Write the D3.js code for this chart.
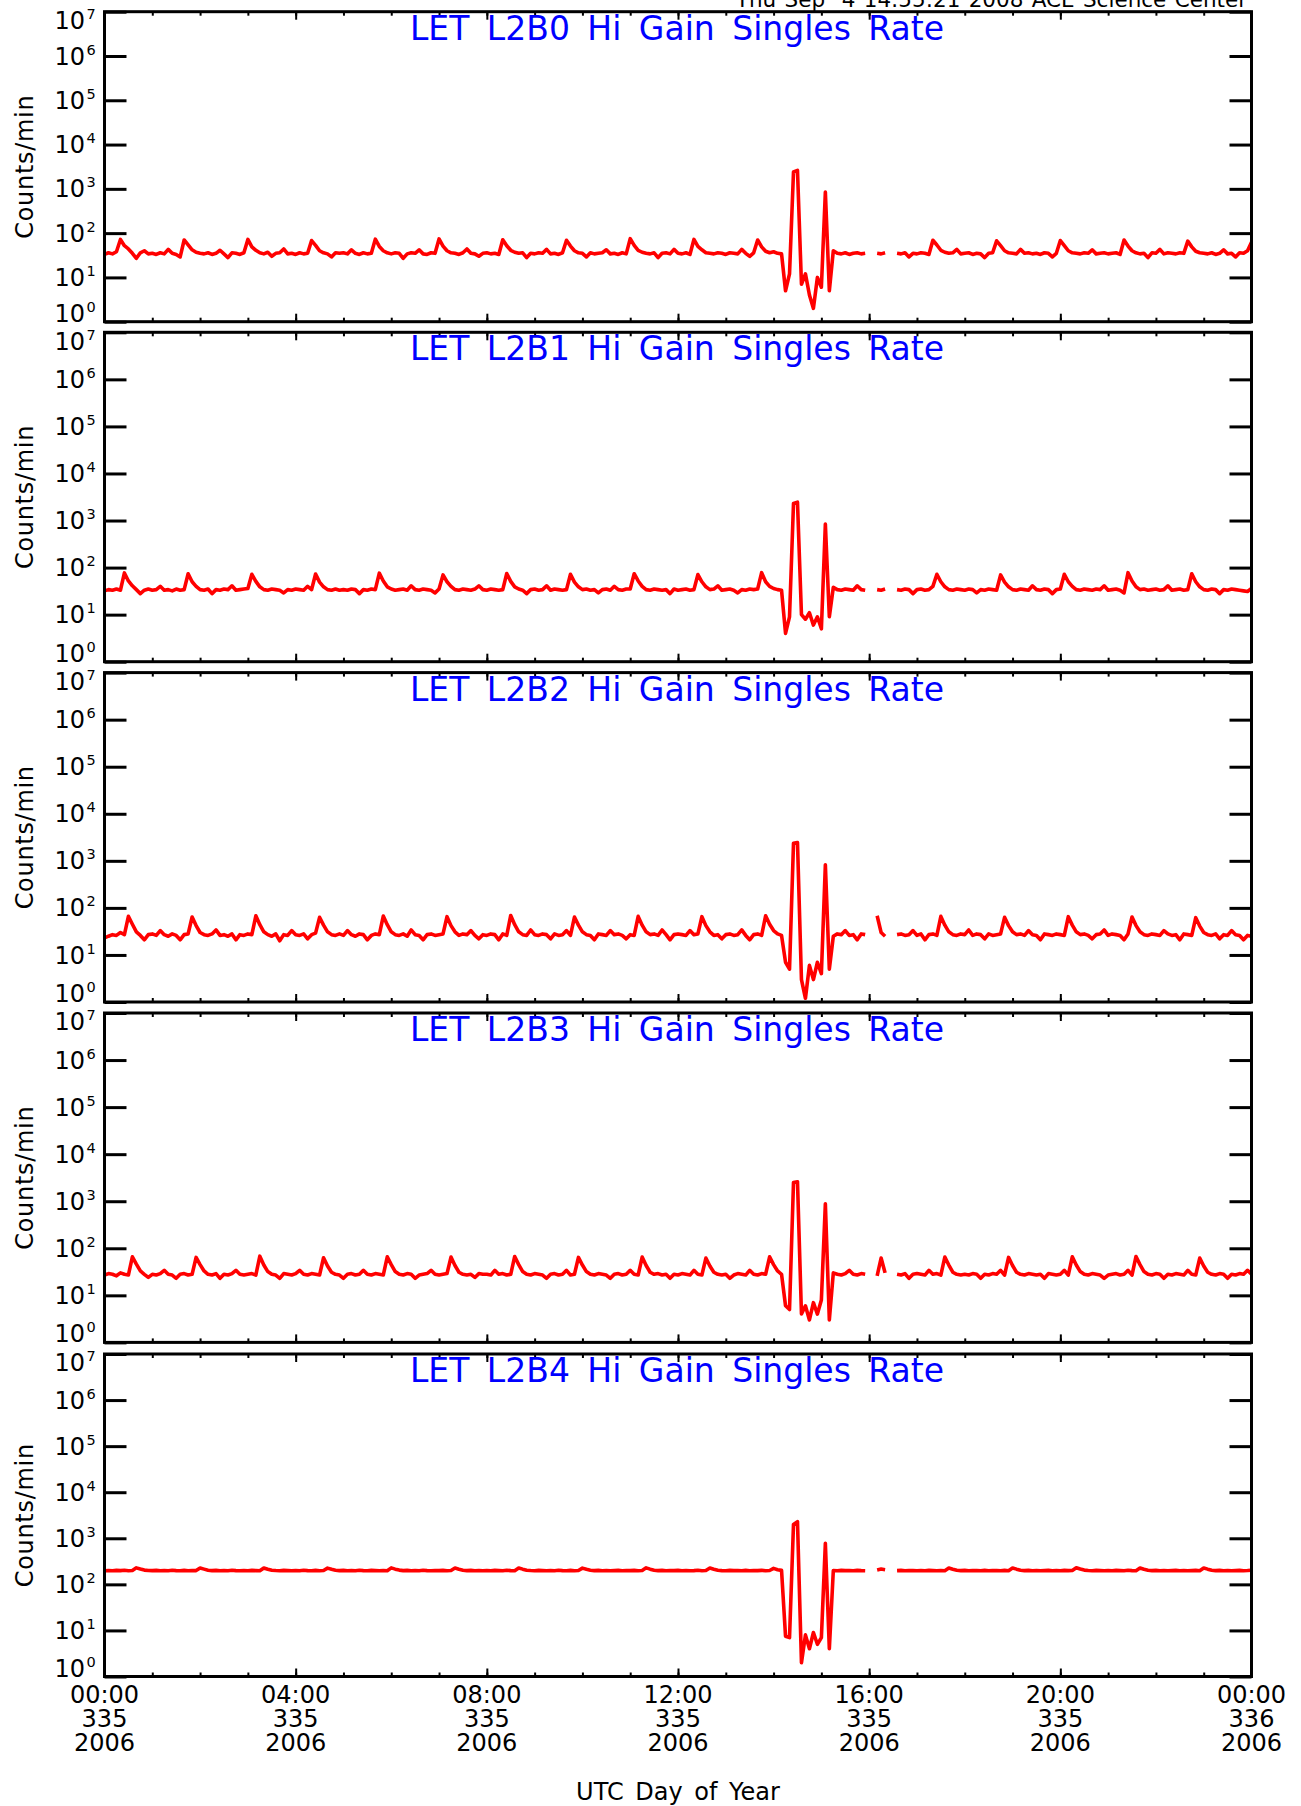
<!DOCTYPE html>
<html><head><meta charset="utf-8">
<script src="https://cdn.jsdelivr.net/npm/d3@7"></script>
<style>
html,body{margin:0;padding:0;background:#fff;}
svg{display:block;font-family:"DejaVu Sans",sans-serif;}
</style></head><body>
<svg id="chart" width="1301" height="1806"></svg>
<script>
// ---------------- data ----------------
const headerText = "Thu Sep  4 14:55:21 2008 ACE Science Center";
const titles = ["LET L2B0 Hi Gain Singles Rate","LET L2B1 Hi Gain Singles Rate","LET L2B2 Hi Gain Singles Rate","LET L2B3 Hi Gain Singles Rate","LET L2B4 Hi Gain Singles Rate"];
const yTitle = "Counts/min";
const xTitle = "UTC Day of Year";
const decadeExponents = [0,1,2,3,4,5,6,7];
const majorTickMinutes = [0,240,480,720,960,1200,1440];
const hourLabels = ["00:00","04:00","08:00","12:00","16:00","20:00","00:00"];
const dayLabels = ["335","335","335","335","335","335","336"];
const yearLabels = ["2006","2006","2006","2006","2006","2006","2006"];

// 5-minute samples, 00:00 (minute 0) .. 24:00 (minute 1440); one row per hour
const l2b0 = [
33,36,34,38,72,52,44,35,27,36,40,34,
35,33,36,34,43,35,33,29,70,54,42,37,
35,34,36,33,35,41,34,28,36,35,33,36,
72,49,41,36,34,37,30,35,36,44,34,35,
33,36,34,35,68,53,40,36,34,29,36,35,
36,34,42,35,33,36,34,35,73,50,40,36,
34,36,35,27,34,36,35,42,34,33,36,35,
74,51,40,36,35,33,36,44,35,34,30,35,
36,34,35,33,71,52,41,37,35,36,28,35,
34,36,35,43,34,35,33,36,69,51,40,36,
35,29,36,34,35,36,42,34,35,33,36,34,
75,53,41,37,35,34,36,28,35,36,34,43,
35,34,36,33,72,50,42,36,35,34,36,35,
33,36,35,34,43,35,30,36,70,49,39,36,
38,35,34,5,12,2400,2600,7,12,4,2,10,
6,850,5,40,35,34,36,33,35,36,34,35,
null,null,35,34,36,null,null,35,34,36,29,35,
34,36,35,33,69,54,41,37,35,36,43,34,
35,36,33,35,34,28,35,36,67,52,40,36,
35,34,43,35,36,34,35,33,36,35,29,35,
68,52,40,36,35,34,36,35,42,34,35,36,
34,35,36,33,70,51,40,36,34,35,28,36,
35,43,34,36,35,34,36,35,66,49,39,36,
35,34,36,33,35,42,34,35,29,36,35,40,
62];
const l2b1 = [
32,34,33,35,33,77,52,41,34,28,33,35,
33,34,40,33,34,32,35,33,34,74,50,40,
34,33,35,28,34,33,35,34,41,33,34,35,
36,72,51,39,34,33,35,34,33,29,34,33,
35,34,33,40,34,73,49,39,34,33,35,33,
34,33,35,34,28,34,33,35,34,76,52,39,
35,33,34,35,33,41,34,33,35,34,33,29,
35,70,50,40,34,33,35,34,33,35,41,34,
33,35,34,33,34,75,51,39,35,33,28,34,
35,33,34,41,33,35,34,33,34,72,49,39,
34,35,33,34,29,34,35,33,40,34,33,35,
35,74,52,40,34,33,35,34,33,34,28,35,
33,34,35,33,34,71,50,39,34,35,41,33,
34,35,33,29,34,33,35,34,35,78,50,40,
36,34,33,4,9,2300,2450,10,8,11,6,9,
5,840,9,38,34,33,35,34,33,41,34,33,
null,null,34,33,35,null,null,34,33,35,34,28,
34,35,33,34,40,72,50,39,34,33,35,34,
33,35,34,29,34,33,35,34,33,70,49,39,
34,33,35,34,33,41,34,33,35,34,28,34,
35,72,50,40,34,33,35,34,33,35,34,41,
33,34,35,33,29,78,52,39,34,35,33,34,
35,33,34,41,33,34,35,33,34,74,50,39,
34,33,35,34,28,34,33,35,34,33,32,31,
36];
const l2b2 = [
23,25,27,26,30,27,66,45,31,26,21,27,
28,26,33,27,25,28,26,21,27,28,64,42,
30,27,26,28,34,26,27,25,28,21,27,26,
28,27,68,44,31,27,25,28,20,27,26,33,
27,26,28,22,27,29,63,43,31,27,26,28,
26,33,27,25,28,27,21,26,28,27,67,44,
31,27,26,28,25,34,27,26,21,27,28,26,
27,28,65,42,31,26,28,27,33,26,22,27,
26,28,27,21,28,26,69,44,31,27,26,34,
27,26,28,27,22,28,26,27,33,26,64,43,
31,27,26,21,28,27,26,33,27,28,26,22,
27,26,66,43,31,27,28,26,34,27,21,27,
28,27,26,33,27,28,65,42,31,26,27,22,
27,28,26,27,34,26,21,27,28,26,68,45,
33,28,26,7,5,2350,2450,3,1.2,6,3,7,
4,820,5,25,28,27,33,26,27,21,28,27,
null,null,68,30,25,null,null,27,28,26,27,33,
26,28,21,27,28,26,66,43,31,27,26,28,
27,34,26,28,27,22,28,26,27,28,63,42,
31,27,28,26,33,27,26,21,28,27,26,28,
27,26,65,43,31,27,28,26,22,27,28,34,
26,28,27,26,21,28,64,42,31,27,26,28,
27,26,33,28,26,27,21,28,27,26,62,41,
30,27,26,28,22,27,26,33,27,26,21,26,
25];
const l2b3 = [
27,29,28,26,30,28,27,66,46,33,28,24,
28,27,29,34,28,27,23,28,29,27,28,64,
45,33,28,27,29,23,28,27,29,34,28,27,
28,29,27,68,44,32,28,27,23,29,28,27,
29,34,28,27,29,28,27,63,42,31,28,27,
23,28,29,27,28,34,28,27,29,28,27,66,
45,32,28,27,29,28,23,27,28,29,34,28,
27,28,29,65,43,31,28,27,28,24,29,28,
28,27,34,28,29,27,28,67,45,32,28,27,
29,28,27,23,28,29,27,28,34,27,28,64,
44,32,28,27,29,28,27,23,28,29,27,28,
34,28,27,65,43,31,28,29,27,28,23,28,
27,29,28,27,34,28,27,62,42,31,28,27,
28,23,27,29,28,27,34,28,27,29,28,66,
45,33,28,6,5,2500,2600,4,6,3,7,4,
8,880,3,30,28,27,29,34,28,27,29,28,
null,null,26,62,30,null,null,28,27,29,23,28,
29,28,27,34,28,29,27,65,44,31,28,27,
28,27,29,28,23,28,27,29,28,34,27,64,
43,31,28,27,29,28,27,28,23,29,28,27,
28,34,27,66,44,32,28,27,29,28,27,23,
27,28,29,27,28,34,27,67,45,32,28,27,
29,28,23,28,27,29,28,27,34,28,27,62,
42,31,28,27,29,28,23,28,27,29,28,34,
28];
const l2b4 = [
198,200,197,201,199,202,198,200,228,215,204,200,
199,201,197,200,198,202,199,197,201,198,200,199,
226,214,203,199,201,197,200,198,202,199,197,200,
198,201,199,197,227,213,203,200,198,201,199,197,
200,198,202,199,197,201,198,200,225,212,202,199,
201,198,200,197,202,199,198,201,199,197,200,198,
228,214,204,199,201,198,200,197,202,199,198,200,
199,201,198,200,226,213,203,199,201,198,200,197,
200,198,201,199,197,202,199,198,227,214,203,200,
198,201,199,197,200,198,202,199,197,201,198,200,
225,212,203,199,201,198,200,197,199,201,198,200,
199,201,198,200,228,214,203,199,201,198,200,199,
201,198,200,197,199,202,198,200,226,213,202,199,
198,201,199,200,197,201,198,200,199,201,198,200,
222,208,201,7.5,7,2000,2300,2,8,4,9,5,
7,780,4,200,198,201,199,200,197,201,199,198,
null,null,205,215,208,null,null,199,201,198,200,199,
197,200,198,201,199,197,200,198,226,213,202,199,
201,198,200,199,197,201,198,200,199,197,201,198,
227,214,203,199,201,198,200,197,199,201,198,200,
198,201,199,200,229,215,204,200,198,201,199,197,
200,198,201,199,197,202,199,198,226,212,202,199,
201,198,200,197,199,201,198,200,197,199,201,198,
227,214,203,199,201,198,200,197,199,201,198,200,
203];
const series = [l2b0, l2b1, l2b2, l2b3, l2b4];
const sampleMinutes = d3.range(0, 1441, 5);

// ---------------- layout ----------------
const svg = d3.select("#chart");
const left = 104.5, right = 1251.5;
const panelTops = [11.7, 332.3, 672.6, 1013, 1354];
const panelBottoms = [321.7, 661.7, 1002, 1342.4, 1676.5];
const x = d3.scaleLinear().domain([0, 1440]).range([left, right]);
const minorTickMinutes = d3.range(0, 1441, 60);

svg.append("text").attr("x", 1247).attr("y", 6.5).attr("text-anchor", "end")
  .attr("font-size", 21.5).attr("word-spacing", 1.5).style("white-space", "pre")
  .attr("fill", "#000").text(headerText);

function styleAxis(sel, w) {
  sel.select(".domain").remove();
  sel.selectAll(".tick line").attr("stroke", "#000").attr("stroke-width", w);
  sel.selectAll(".tick text").remove();
}

series.forEach((vals, p) => {
  const top = panelTops[p], bot = panelBottoms[p];
  const y = d3.scaleLog().domain([1, 1e7]).range([bot, top]);
  const g = svg.append("g");

  const clipId = "clip" + p;
  svg.append("clipPath").attr("id", clipId).append("rect")
    .attr("x", left).attr("y", top).attr("width", right - left).attr("height", bot - top);

  const line = d3.line().defined(d => d[1] != null).x(d => x(d[0])).y(d => y(d[1]));
  g.append("path").datum(sampleMinutes.map((m, i) => [m, vals[i]]))
    .attr("d", line).attr("fill", "none").attr("stroke", "#ff0000")
    .attr("stroke-width", 3.6).attr("stroke-linejoin", "round")
    .attr("clip-path", `url(#${clipId})`);

  const decades = decadeExponents.map(e => Math.pow(10, e));
  g.append("g").attr("transform", `translate(${left},0)`)
    .call(d3.axisLeft(y).tickValues(decades).tickSize(-22).tickFormat(""))
    .call(s => styleAxis(s, 3));
  g.append("g").attr("transform", `translate(${right},0)`)
    .call(d3.axisRight(y).tickValues(decades).tickSize(-22).tickFormat(""))
    .call(s => styleAxis(s, 3));

  g.append("g").attr("transform", `translate(0,${top})`)
    .call(d3.axisTop(x).tickValues(minorTickMinutes).tickSize(-4).tickFormat(""))
    .call(s => styleAxis(s, 2));
  g.append("g").attr("transform", `translate(0,${top})`)
    .call(d3.axisTop(x).tickValues(majorTickMinutes).tickSize(-8).tickFormat(""))
    .call(s => styleAxis(s, 2));
  g.append("g").attr("transform", `translate(0,${bot})`)
    .call(d3.axisBottom(x).tickValues(minorTickMinutes).tickSize(-4).tickFormat(""))
    .call(s => styleAxis(s, 2));
  g.append("g").attr("transform", `translate(0,${bot})`)
    .call(d3.axisBottom(x).tickValues(majorTickMinutes).tickSize(-8).tickFormat(""))
    .call(s => styleAxis(s, 2));

  g.append("rect").attr("x", left).attr("y", top).attr("width", right - left)
    .attr("height", bot - top).attr("fill", "none").attr("stroke", "#000").attr("stroke-width", 3);

  // y tick labels
  decadeExponents.forEach(e => {
    const ty = y(Math.pow(10, e));
    const base = e === 7 ? ty + 17.2 : (e === 0 ? ty : ty + 8.6);
    g.append("text").attr("x", 85).attr("y", base).attr("text-anchor", "end")
      .attr("font-size", 24).attr("fill", "#000").text("10");
    g.append("text").attr("x", 86.5).attr("y", base - 10).attr("text-anchor", "start")
      .attr("font-size", 14.5).attr("fill", "#000").text(String(e));
  });

  // title
  g.append("text").attr("x", 677).attr("y", top + 28).attr("text-anchor", "middle")
    .attr("font-size", 33).attr("word-spacing", 7).attr("fill", "#0000ff").text(titles[p]);

  // y title
  g.append("text").attr("transform", `translate(33,${(top + bot) / 2}) rotate(-90)`)
    .attr("text-anchor", "middle").attr("font-size", 24).attr("letter-spacing", 0.7)
    .attr("fill", "#000").text(yTitle);

  if (p === series.length - 1) {
    majorTickMinutes.forEach((m, i) => {
      const tx = x(m);
      [[hourLabels[i], 1703.3], [dayLabels[i], 1727], [yearLabels[i], 1750.7]].forEach(([t, by]) => {
        g.append("text").attr("x", tx).attr("y", by).attr("text-anchor", "middle")
          .attr("font-size", 24).attr("fill", "#000").text(t);
      });
    });
    g.append("text").attr("x", 678).attr("y", 1800).attr("text-anchor", "middle")
      .attr("font-size", 24).attr("word-spacing", 4).attr("fill", "#000").text(xTitle);
  }
});
</script>
</body></html>
